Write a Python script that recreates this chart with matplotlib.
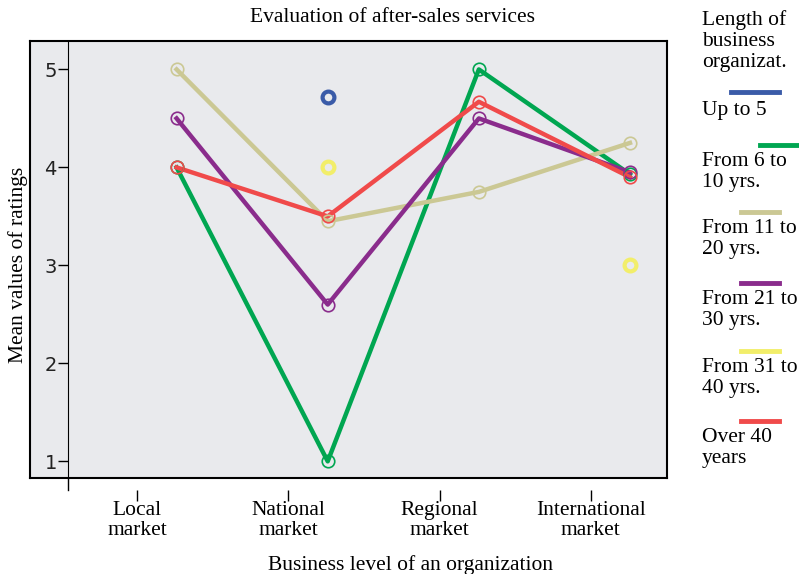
import matplotlib.pyplot as plt
import numpy as np

markets = ['Local\nmarket', 'National\nmarket', 'Regional\nmarket', 'International\nmarket']
groups = ['Up to 5\nyrs.', 'From 6 to\n10 yrs.', 'From 11 to\n20 yrs.', 'From 21 to\n30 yrs.',
          'From 31 to\n40 yrs.', 'Over 40\nyears']
colors = ['#3a5ba8', '#00a651', '#cbc894', '#8a2c8c', '#f2ee6a', '#f04a4a']

# nan = no rating in that market
up_to_5 = [np.nan, 4.72, np.nan, np.nan]
y6_10 = [4.0, 1.0, 5.0, 3.93]
y11_20 = [5.0, 3.45, 3.75, 4.25]
y21_30 = [4.5, 2.6, 4.5, 3.95]
y31_40 = [np.nan, 4.0, np.nan, 3.0]
over_40 = [4.0, 3.5, 4.67, 3.9]
series = [up_to_5, y6_10, y11_20, y21_30, y31_40, over_40]

plt.rcParams['font.family'] = ['Liberation Serif', 'DejaVu Serif']

fig = plt.figure(figsize=(7.99, 5.74), dpi=100)
ax = fig.add_axes([30/799, 1-478/574, 637/799, 437/574])
ax.set_facecolor('#e9eaed')
x = np.arange(4)

for vals, c in zip(series, colors):
    v = np.array(vals)
    ok = ~np.isnan(v)
    if np.all(ok):
        ax.plot(x, v, '-', color=c, lw=3.2, zorder=2)
        ax.plot(x, v, 'o', ms=9, mfc='none', mec=c, mew=1.2, zorder=3)
    else:
        ax.plot(x[ok], v[ok], 'o', ms=8.5, mfc='none', mec=c, mew=3, zorder=3)

ax.set_xlim(-0.97, 3.245)
ax.set_ylim(0.83, 5.29)
ax.set_xticks([])
ax.set_yticks([])
for s in ax.spines.values():
    s.set_linewidth(1.5)

# inner y axis
yax = ax.secondary_yaxis(0.0597)
yax.set_yticks([1, 2, 3, 4, 5])
yax.tick_params(length=7, width=1, labelsize=14, pad=1)
for lab in yax.get_yticklabels():
    lab.set_family('DejaVu Sans')
    lab.set_color('#222222')
ax.plot([-0.72, -0.72], [0.83, 0.71], color='black', lw=1, clip_on=False)

# category axis, shifted below the frame
xax = ax.secondary_xaxis(-0.027)
xax.set_xticks(x - 0.26)
xax.set_xticklabels(markets, fontsize=15.5, linespacing=1.1)
xax.tick_params(length=8, width=1, pad=0)
xax.spines['bottom'].set_visible(False)

fig.text(18/799, 1-265/574, 'Mean values of ratings', rotation=90, ha='center', va='center', fontsize=15.5)
fig.text(392/799, 1-18/574, 'Evaluation of after-sales services', ha='center', va='center', fontsize=15.5)
fig.text(411/799, 1-565/574, 'Business level of an organization', ha='center', va='center', fontsize=15.5)

# legend drawn by hand
fig.text(702/799, 1-41/574, 'Length of\nbusiness\norganizat.', ha='left', va='center', fontsize=15.5, linespacing=1.15)
line_y = [92, 145, 212, 283, 351, 421]
line_x = [(731, 779), (760, 799), (741, 779), (741, 779), (741, 779), (741, 779)]
for g, c, ly, lx in zip(groups, colors, line_y, line_x):
    fig.add_artist(plt.Line2D([lx[0]/799, lx[1]/799], [1-ly/574, 1-ly/574], color=c, lw=3.5))
    if g.startswith('Up'):
        fig.text(702/799, 1-111/574, 'Up to 5', ha='left', va='center', fontsize=15.5)
    else:
        fig.text(702/799, 1-(ly+27)/574, g, ha='left', va='center', fontsize=15.5, linespacing=1.15)

fig.savefig('out.png', dpi=100)
